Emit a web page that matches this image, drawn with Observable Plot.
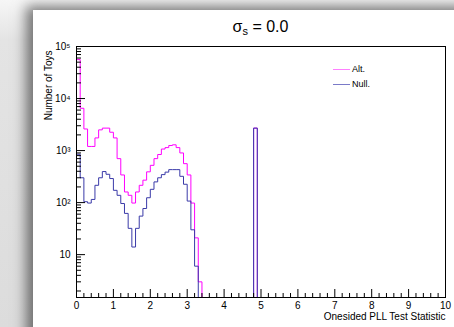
<!DOCTYPE html>
<html><head><meta charset="utf-8">
<script src="https://cdn.jsdelivr.net/npm/d3@7"></script>
<script src="https://cdn.jsdelivr.net/npm/@observablehq/plot@0.6"></script>
<style>
html,body{margin:0;padding:0;}
body{width:454px;height:327px;overflow:hidden;position:relative;background:linear-gradient(to bottom,#f6f6f6 0px,#e4e4e4 40px,#dcdcdc 327px);font-family:"Liberation Sans",Arial,sans-serif;}
#canvas{position:absolute;left:33px;top:10px;width:440px;height:340px;background:#fff;box-shadow:-4px -1px 12px 3px rgba(0,0,0,0.5);}
#chart{position:absolute;left:0;top:0;}
#title{position:absolute;left:76px;width:369px;top:19px;text-align:center;font-size:16px;line-height:16px;}
#title sub{font-size:11px;vertical-align:-3px;line-height:0;}
#legend{position:absolute;left:333px;top:62px;font-size:9px;line-height:15px;}
#legend .sw{display:inline-block;width:17px;height:0;border-top:1px solid;vertical-align:middle;margin-right:2px;}
</style></head>
<body>
<div id="canvas"></div>
<div id="chart"></div>
<div id="title">σ<sub>s</sub> = 0.0</div>
<div id="legend"></div>
<script>
// ---- data (100 bins of width 0.1 on [0,10]) ----
const binWidth = 0.1;
const altCounts = [
  56000, 6500, 2600, 1200, 1200, 1750, 2500, 2700, 2700, 2250,
  1750, 700, 340, 160, 138, 98, 160, 215, 270, 390,
  520, 700, 840, 1070, 1140, 1250, 1290, 1140, 900, 560,
  340, 98, 21, 3, 0, 0, 0, 0, 0, 0,
  0, 0, 0, 0, 0, 0, 0, 0, 2700, 0,
  0, 0, 0, 0, 0, 0, 0, 0, 0, 0,
  0, 0, 0, 0, 0, 0, 0, 0, 0, 0,
  0, 0, 0, 0, 0, 0, 0, 0, 0, 0,
  0, 0, 0, 0, 0, 0, 0, 0, 0, 0,
  0, 0, 0, 0, 0, 0, 0, 0, 0, 0
];
const nullCounts = [
  850, 300, 104, 98, 115, 215, 300, 395, 350, 290,
  172, 138, 96, 62, 32, 14, 32, 55, 77, 124,
  180, 250, 300, 345, 385, 430, 430, 430, 320, 225,
  107, 30, 6, 0, 0, 0, 0, 0, 0, 0,
  0, 0, 0, 0, 0, 0, 0, 0, 2700, 0,
  0, 0, 0, 0, 0, 0, 0, 0, 0, 0,
  0, 0, 0, 0, 0, 0, 0, 0, 0, 0,
  0, 0, 0, 0, 0, 0, 0, 0, 0, 0,
  0, 0, 0, 0, 0, 0, 0, 0, 0, 0,
  0, 0, 0, 0, 0, 0, 0, 0, 0, 0
];
const seriesNames = ["Alt.", "Null."];
const xMajorTicks = [0, 1, 2, 3, 4, 5, 6, 7, 8, 9, 10];
const yMajorTicks = [10, 100, 1000, 10000, 100000];
const yTickLabels = ["10", "10²", "10³", "10⁴", "10⁵"];
const xTitleText = "Onesided PLL Test Statistic";
const yTitleText = "Number of Toys";

// ---- styles ----
const seriesColors = ["#ff00ff", "#3a3aa8"];
const legendColors = ["#ff80ff", "#7a7ac8"];
const yMin = 1.5, yMax = 1e5;

function steps(counts) {
  const pts = [];
  counts.forEach((c, i) => {
    const v = Math.max(c, yMin);
    pts.push({x: i * binWidth, y: v});
    pts.push({x: (i + 1) * binWidth, y: v});
  });
  return pts;
}
const xMinorTicks = d3.range(0, 50).map(i => i * 0.2).filter(v => Math.abs(v - Math.round(v)) > 1e-6);
const yMinorTicks = [];
[1, 10, 100, 1000, 10000].forEach(d => { for (let m = 2; m <= 9; m++) { const v = m * d; if (v >= yMin && v <= yMax) yMinorTicks.push(v); } });

const chart = Plot.plot({
  width: 454, height: 327,
  marginLeft: 76, marginRight: 9, marginTop: 46, marginBottom: 30,
  style: {background: "transparent", fontFamily: "Liberation Sans, Arial, sans-serif", fontSize: "10px", color: "black"},
  x: {domain: [0, 10], axis: null},
  y: {type: "log", domain: [yMin, yMax], axis: null},
  marks: [
    Plot.line(steps(altCounts), {x: "x", y: "y", stroke: seriesColors[0], strokeWidth: 1}),
    Plot.line(steps(nullCounts), {x: "x", y: "y", stroke: seriesColors[1], strokeWidth: 1}),
    Plot.frame({stroke: "black"}),
    Plot.axisX(xMajorTicks, {anchor: "bottom", tickSize: 8, dy: -8, fill: "none", label: null}),
    Plot.axisX(xMinorTicks, {anchor: "bottom", tickSize: 4, dy: -4, fill: "none", label: null}),
    Plot.axisX(xMajorTicks, {anchor: "bottom", tickSize: 0, tickPadding: 4, label: null, tickFormat: d => String(d)}),
    Plot.axisY(yMajorTicks, {anchor: "left", tickSize: 9, dx: 9, fill: "none", label: null}),
    Plot.axisY(yMinorTicks, {anchor: "left", tickSize: 5, dx: 5, fill: "none", label: null}),
    Plot.axisY(yMajorTicks, {anchor: "left", tickSize: 0, tickPadding: 6, label: null, tickFormat: d => yTickLabels[yMajorTicks.indexOf(d)]}),
    Plot.text([xTitleText], {frameAnchor: "bottom-right", text: d => d, textAnchor: "end", dy: 22, fontSize: 10}),
    Plot.text([yTitleText], {frameAnchor: "top-left", text: d => d, textAnchor: "end", rotate: -90, dx: -32, dy: 4, fontSize: 10})
  ]
});
document.getElementById("chart").appendChild(chart);

const legend = document.getElementById("legend");
seriesNames.forEach((name, i) => {
  const row = document.createElement("div");
  row.innerHTML = `<span class="sw" style="border-color:${legendColors[i]}"></span>${name}`;
  legend.appendChild(row);
});
</script>
</body></html>
